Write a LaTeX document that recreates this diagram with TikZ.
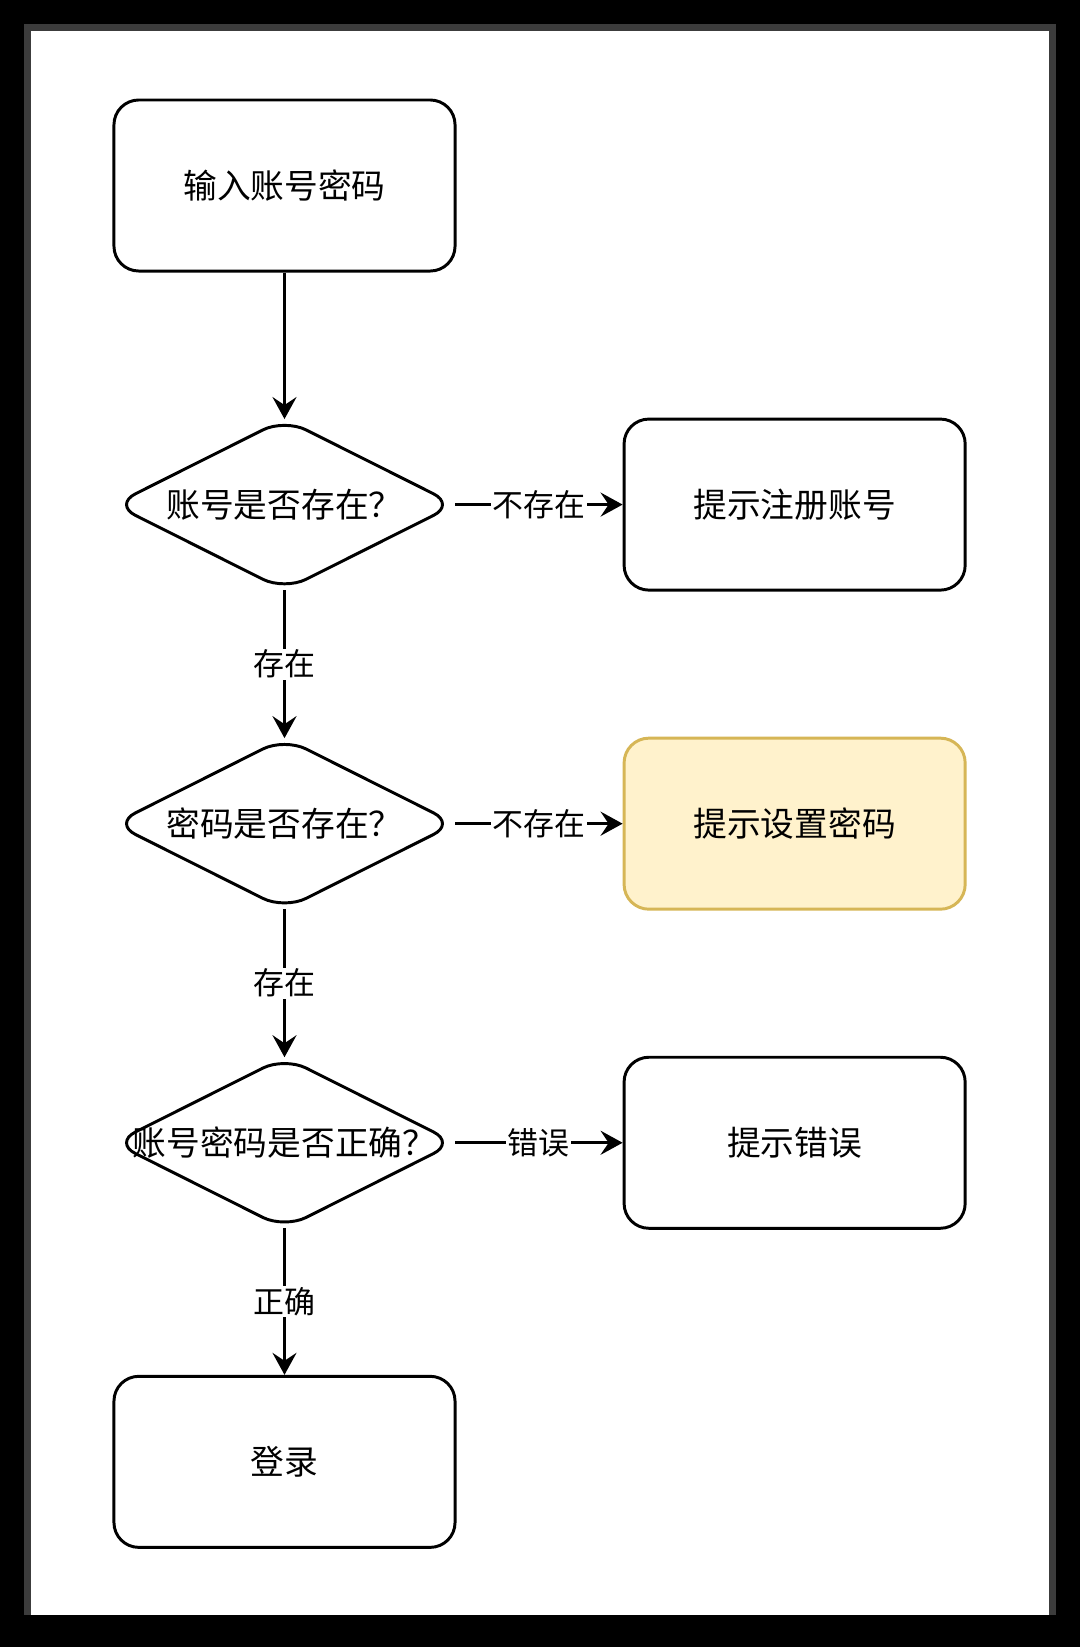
\documentclass[tikz,border=0pt]{standalone}
\usepackage{fontspec}
\setmainfont{Noto Sans CJK SC}
\usetikzlibrary{shapes.geometric,positioning,arrows.meta}
\definecolor{notefill}{HTML}{FFF2CC}
\definecolor{noteline}{HTML}{D6B656}
\definecolor{framegray}{HTML}{3C3C3C}

\begin{document}
\begin{tikzpicture}[x=0.025cm, y=-0.025cm, node distance=7.975cm, ->, >={Stealth[length=0.55cm,width=0.6cm,inset=0.2cm]},
        line width=2.1pt,
        box/.style={draw, rectangle, rounded corners=0.62cm, minimum width=8.525cm, minimum height=4.275cm, font=\fontsize{24pt}{28pt}\selectfont},
        decision/.style={draw, diamond, rounded corners=0.6cm, minimum width=8.525cm, minimum height=4.275cm, inner sep=0pt, outer sep=0pt},
        dtext/.style={font=\fontsize{24pt}{28pt}\selectfont, inner sep=0pt},
        lbl/.style={fill=white, inner sep=1pt, font=\fontsize{22pt}{26pt}\selectfont}]
        % frame
        \fill[black] (0,0) rectangle (1080,1647);
        \fill[framegray] (24,24) rectangle (1056,1615);
        \fill[white] (31,31) rectangle (1049,1615);
        \useasboundingbox (0,0) rectangle (1080,1647);

        \node[box] (input) at (284.5,185.5) {输入账号密码};
        \node[decision, below of=input, label={[dtext]center:账号是否存在？}] (acc) {};
        \node[decision, below of=acc, label={[dtext]center:密码是否存在？}] (pwd) {};
        \node[decision, below of=pwd, label={[dtext]center:账号密码是否正确？}] (check) {};
        \node[box, below of=check] (login) {登录};
        \node[box, node distance=12.75cm, right of=acc] (reg) {提示注册账号};
        \node[box, node distance=12.75cm, right of=pwd, fill=notefill, draw=noteline] (setpwd) {提示设置密码};
        \node[box, node distance=12.75cm, right of=check] (err) {提示错误};

        \draw (input) edge (acc)
              (acc) edge node[lbl]{不存在} (reg)
              (acc) edge node[lbl]{存在} (pwd)
              (pwd) edge node[lbl]{不存在} (setpwd)
              (pwd) edge node[lbl]{存在} (check)
              (check) edge node[lbl]{错误} (err)
              (check) edge node[lbl]{正确} (login);
    \end{tikzpicture}
\end{document}
